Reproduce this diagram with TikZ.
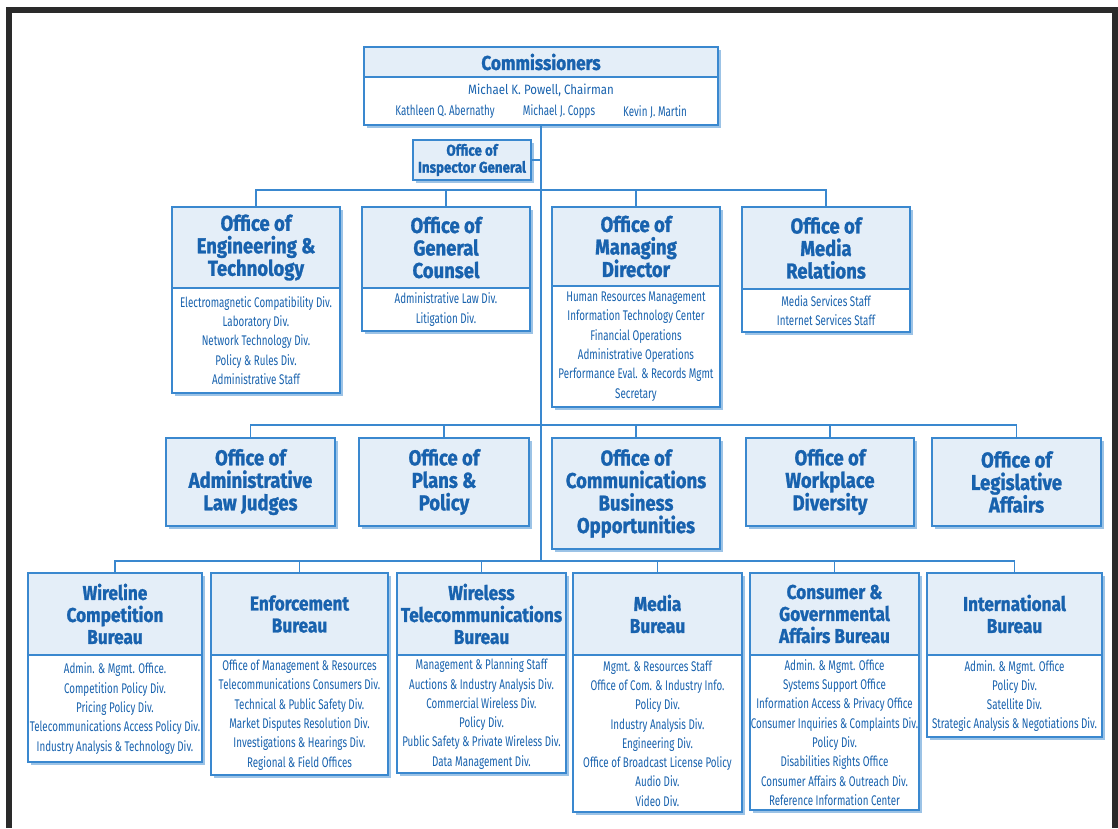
\documentclass[tikz,border=0pt]{standalone}
\usepackage{fontspec}
\newfontfamily\ttlfont[FakeStretch=0.86,FakeBold=1.2]{Fira Sans}
\newfontfamily\bdyfont[FakeStretch=0.70]{Fira Sans}
\newfontfamily\chrfont[FakeStretch=0.85]{Fira Sans}
\definecolor{lineblue}{HTML}{3A88CF}
\definecolor{headblue}{HTML}{E4EEF8}
\definecolor{shadowblue}{HTML}{9CC3E6}
\definecolor{txtblue}{HTML}{1862AE}
\definecolor{framec}{HTML}{2A2A2A}
\tikzset{
  boxnode/.style={rectangle, inner sep=0pt, outer sep=0pt, fill=white, anchor=north west},
  boxline/.style={draw=lineblue, line width=1.6pt},
  conn/.style={draw=lineblue, line width=1.6pt},
  shadowfill/.style={fill=shadowblue},
  ttl/.style={text=txtblue, align=center, inner sep=0pt, font=\ttlfont\bfseries\fontsize{21.5}{22.5}\selectfont},
  ttls/.style={text=txtblue, align=center, inner sep=0pt, font=\ttlfont\bfseries\fontsize{20}{22}\selectfont},
  ttlig/.style={text=txtblue, align=center, inner sep=0pt, font=\ttlfont\bfseries\fontsize{15.5}{17}\selectfont},
  bdy/.style={text=txtblue, align=center, inner sep=0pt, font=\bdyfont\fontsize{14}{19.3}\selectfont},
  chr/.style={text=txtblue, align=center, inner sep=0pt, font=\chrfont\fontsize{13.5}{19.3}\selectfont},
}
% #1 title style, #2 name, #3 x1, #4 y1, #5 x2, #6 ydiv, #7 y2, #8 title, #9 body
\newcommand\orgbox[9][ttl]{%
  \fill[shadowfill] (#3+3,#4+3) rectangle (#5+3,#7+3);
  \node[boxnode, minimum width={#5-#3}, minimum height={#7-#4}] (#2) at (#3,#4) {};
  \fill[headblue] (#3,#4) rectangle (#5,#6);
  \draw[boxline] (#3,#4) rectangle (#5,#7);
  \draw[boxline] (#3,#6) -- (#5,#6);
  \node[#1] (#2-t) at ({(#3+#5)/2},{(#4+#6)/2}) {#8};
  \node[bdy] (#2-b) at ({(#3+#5)/2},{(#6+#7)/2}) {#9};
}
% #1 title style, #2 name, #3 x1, #4 y1, #5 x2, #6 y2, #7 title
\newcommand\offbox[7][ttl]{%
  \fill[shadowfill] (#3+3,#4+3) rectangle (#5+3,#6+3);
  \node[boxnode, fill=headblue, minimum width={#5-#3}, minimum height={#6-#4}] (#2) at (#3,#4) {};
  \draw[boxline] (#3,#4) rectangle (#5,#6);
  \node[#1] (#2-t) at ({(#3+#5)/2},{(#4+#6)/2}) {#7};
}
\begin{document}
\begin{tikzpicture}[x=1pt,y=-1pt]
\useasboundingbox (0,0) rectangle (1118,828);
\fill[white] (0,0) rectangle (1118,828);
\fill[framec] (6,7) rectangle (1118,828);
\fill[white] (12,13) rectangle (1112,828);

% bar coordinates
\coordinate (b2) at (541,190);
\coordinate (b3) at (541,425);
\coordinate (b4) at (541,561);

% Commissioners
\orgbox[ttls]{comm}{364}{47}{718}{77}{125}{Commissioners}{}
\node[chr] (powell) at (541,90) {Michael K. Powell, Chairman};
\node[bdy] (abern) at (445,112) {Kathleen Q. Abernathy};
\node[bdy] (copps) at (559,112) {Michael J. Copps};
\node[bdy] (martin) at (655,112) {Kevin J. Martin};

% trunk
\draw[conn] (comm.south) -- (b4);

% Inspector General
\offbox[ttlig]{ig}{413}{140}{531}{180}{Office of\\Inspector General}
\draw[conn] (ig.east) -- (ig.east -| comm.south);

% Row 2
\orgbox{oet}{172}{207}{340}{288}{393}{Office of\\Engineering \&\\Technology}{Electromagnetic Compatibility Div.\\Laboratory Div.\\Network Technology Div.\\Policy \& Rules Div.\\Administrative Staff}
\orgbox{ogc}{362}{207}{530}{288}{331}{Office of\\General\\Counsel}{Administrative Law Div.\\Litigation Div.}
\orgbox{omd}{552}{207}{720}{286}{407}{Office of\\Managing\\Director}{Human Resources Management\\Information Technology Center\\Financial Operations\\Administrative Operations\\Performance Eval. \& Records Mgmt\\Secretary}
\orgbox{omr}{742}{207}{910}{289}{332}{Office of\\Media\\Relations}{Media Services Staff\\Internet Services Staff}
\draw[conn] (oet.north) |- (b2) -| (omr.north);
\draw[conn] (ogc.north) -- (ogc.north |- b2);
\draw[conn] (omd.north) -- (omd.north |- b2);

% Row 3
\offbox{oalj}{166}{438}{335}{526}{Office of\\Administrative\\Law Judges}
\offbox{opp}{359}{438}{529}{526}{Office of\\Plans \&\\Policy}
\offbox{ocbo}{552}{438}{720}{549}{Office of\\Communications\\Business\\Opportunities}
\offbox{owd}{746}{438}{914}{526}{Office of\\Workplace\\Diversity}
\offbox{ola}{932}{438}{1101}{526}{Office of\\Legislative\\Affairs}
\draw[conn] (oalj.north) |- (b3) -| (ola.north);
\draw[conn] (opp.north) -- (opp.north |- b3);
\draw[conn] (ocbo.north) -- (ocbo.north |- b3);
\draw[conn] (owd.north) -- (owd.north |- b3);

% Row 4
\orgbox[ttls]{wcb}{28}{573}{202}{655}{762}{Wireline\\Competition\\Bureau}{Admin. \& Mgmt. Office.\\Competition Policy Div.\\Pricing Policy Div.\\Telecommunications Access Policy Div.\\Industry Analysis \& Technology Div.}
\orgbox[ttls]{enf}{211}{573}{388}{655}{775}{Enforcement\\Bureau}{Office of Management \& Resources\\Telecommunications Consumers Div.\\Technical \& Public Safety Div.\\Market Disputes Resolution Div.\\Investigations \& Hearings Div.\\Regional \& Field Offices}
\orgbox[ttls]{wtb}{397}{573}{566}{655}{773}{Wireless\\Telecommunications\\Bureau}{Management \& Planning Staff\\Auctions \& Industry Analysis Div.\\Commercial Wireless Div.\\Policy Div.\\Public Safety \& Private Wireless Div.\\Data Management Div.}
\orgbox[ttls]{med}{573}{573}{742}{655}{812}{Media\\Bureau}{Mgmt. \& Resources Staff\\Office of Com. \& Industry Info.\\Policy Div.\\Industry Analysis Div.\\Engineering Div.\\Office of Broadcast License Policy\\Audio Div.\\Video Div.}
\orgbox[ttls]{cgab}{750}{573}{919}{655}{810}{Consumer \&\\Governmental\\Affairs Bureau}{Admin. \& Mgmt. Office\\Systems Support Office\\Information Access \& Privacy Office\\Consumer Inquiries \& Complaints Div.\\Policy Div.\\Disabilities Rights Office\\Consumer Affairs \& Outreach Div.\\Reference Information Center}
\orgbox[ttls]{ib}{927}{573}{1102}{655}{737}{International\\Bureau}{Admin. \& Mgmt. Office\\Policy Div.\\Satellite Div.\\Strategic Analysis \& Negotiations Div.}
\draw[conn] (wcb.north) |- (b4) -| (ib.north);
\draw[conn] (enf.north) -- (enf.north |- b4);
\draw[conn] (wtb.north) -- (wtb.north |- b4);
\draw[conn] (med.north) -- (med.north |- b4);
\draw[conn] (cgab.north) -- (cgab.north |- b4);
\end{tikzpicture}
\end{document}
